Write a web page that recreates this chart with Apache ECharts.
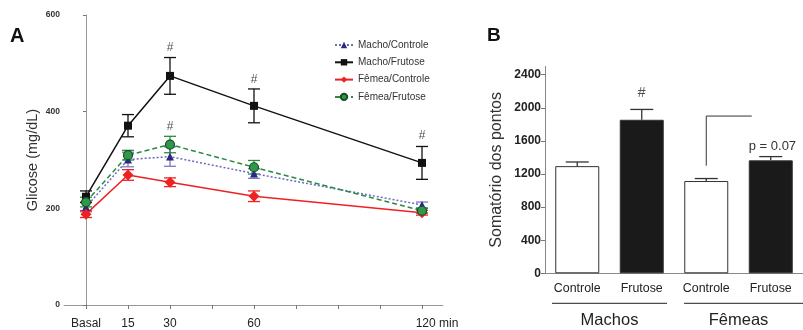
<!DOCTYPE html>
<html><head><meta charset="utf-8">
<script src="https://cdn.jsdelivr.net/npm/echarts@6/dist/echarts.min.js"></script>
<style>html,body{margin:0;padding:0;background:#fff}#c{width:803px;height:330px}</style>
</head><body><div id="c"></div>
<script>
// ---- Panel A data ----
const timePoints = [0, 15, 30, 60, 120];
const timeLabels = ['Basal', '15', '30', '60', '120 min'];
const timeTicks = [0, 15, 30, 45, 60, 75, 90, 105, 120];
const seriesNames = ['Macho/Controle', 'Macho/Frutose', 'Fêmea/Controle', 'Fêmea/Frutose'];
const machoControle = [203, 301, 307, 272, 207];
const machoControleErr = [10, 15, 20, 10, 6];
const machoFrutose = [224, 371, 474, 412, 294];
const machoFrutoseErr = [12, 23, 38, 35, 34];
const femeaControle = [188, 269, 254, 225, 191];
const femeaControleErr = [7, 11, 9, 11, 5];
const femeaFrutose = [213, 310, 332, 285, 195];
const femeaFrutoseErr = [10, 10, 17, 14, 5];
const hashA = [[30, 532], [60, 467], [120, 350], [30, 368]];
const yTicksA = [0, 200, 400, 600];
// ---- Panel B data ----
const barCategories = ['Controle', 'Frutose', 'Controle', 'Frutose'];
const barGroups = ['Machos', 'Fêmeas'];
const barValues = [1295, 1855, 1115, 1365];
const barErr = [50, 125, 30, 45];
const hashB = [[1, 2175]];
const yTicksB = [0, 400, 800, 1200, 1600, 2000, 2400];
const pBracket = [1300, 1900];
const pText = 'p = 0.07';

const FONT = 'Liberation Sans, Arial, sans-serif';
const chart = echarts.init(document.getElementById('c'), null, {renderer: 'canvas'});

const styles = [
  {color: '#2a2a80', line: '#6a6ac0', type: [2, 2], symbol: 'triangle', size: 8, err: '#7a7ac8'},
  {color: '#111111', line: '#111111', type: 'solid', symbol: 'rect', size: 8, err: '#111111'},
  {color: '#ee2222', line: '#ee2222', type: 'solid', symbol: 'diamond', size: 11, err: '#ee2222'},
  {color: '#2e9a48', line: '#2b8a3e', type: [5, 3], symbol: 'circle', size: 9, err: '#2b8a3e'}
];
const vals = [machoControle, machoFrutose, femeaControle, femeaFrutose];
const errs = [machoControleErr, machoFrutoseErr, femeaControleErr, femeaFrutoseErr];

function errRender(halfW, color, upOnly) {
  return function (params, api) {
    const x = api.value(0), lo = api.value(1), hi = api.value(2);
    const pTop = api.coord([x, hi]);
    const pBot = api.coord([x, lo]);
    const children = [
      {type: 'line', shape: {x1: pTop[0], y1: pTop[1], x2: pBot[0], y2: pBot[1]}, style: {stroke: color, lineWidth: 1.3}},
      {type: 'line', shape: {x1: pTop[0] - halfW, y1: pTop[1], x2: pTop[0] + halfW, y2: pTop[1]}, style: {stroke: color, lineWidth: 1.3}}
    ];
    if (!upOnly) children.push({type: 'line', shape: {x1: pBot[0] - halfW, y1: pBot[1], x2: pBot[0] + halfW, y2: pBot[1]}, style: {stroke: color, lineWidth: 1.3}});
    return {type: 'group', children: children};
  };
}

const series = [];
vals.forEach((v, i) => {
  series.push({
    type: 'custom', name: 'err' + i, xAxisIndex: 0, yAxisIndex: 0, z: 2,
    renderItem: errRender(6, styles[i].err, false),
    data: timePoints.map((t, k) => [t, v[k] - errs[i][k], v[k] + errs[i][k]]),
    silent: true
  });
});
vals.forEach((v, i) => {
  const s = styles[i];
  series.push({
    type: 'line', name: seriesNames[i], xAxisIndex: 0, yAxisIndex: 0, z: 3,
    data: timePoints.map((t, k) => [t, v[k]]),
    symbol: s.symbol, symbolSize: s.size,
    itemStyle: {color: s.color, borderColor: i === 3 ? '#1b4d2a' : s.color, borderWidth: i === 3 ? 1.2 : 0},
    lineStyle: {color: s.line, type: s.type, width: 1.5},
    animation: false
  });
});
series.push({
  type: 'scatter', name: 'hashA', xAxisIndex: 0, yAxisIndex: 0, symbolSize: 0,
  data: hashA, silent: true,
  label: {show: true, position: 'inside', formatter: '#', fontSize: 12, color: '#222', fontFamily: FONT}
});
series.push({
  type: 'bar', name: 'bars', xAxisIndex: 1, yAxisIndex: 1, barWidth: 44,
  data: barValues.map((v, i) => ({value: v, itemStyle: {color: i % 2 === 0 ? '#ffffff' : '#1a1a1a', borderColor: '#333', borderWidth: 1}})),
  animation: false
});
series.push({
  type: 'custom', name: 'errB', xAxisIndex: 1, yAxisIndex: 1, z: 1,
  renderItem: errRender(11.5, '#333', true),
  data: barValues.map((v, i) => [i, v, v + barErr[i]]), silent: true
});
series.push({
  type: 'scatter', name: 'hashB', xAxisIndex: 1, yAxisIndex: 1, symbolSize: 0,
  data: hashB, silent: true,
  label: {show: true, position: 'inside', formatter: '#', fontSize: 14, color: '#222', fontFamily: FONT}
});

const plain = v => String(v);
const option = {
  animation: false,
  backgroundColor: '#fff',
  textStyle: {fontFamily: FONT},
  grid: [
    {left: 64, top: 15, right: 360, bottom: 25},
    {left: 545, top: 66.4, right: -6, bottom: 56.7}
  ],
  legend: {
    data: seriesNames, orient: 'vertical', left: 334, top: 40, padding: 0,
    itemWidth: 18, itemHeight: 8, itemGap: 7.3,
    textStyle: {fontSize: 10, color: '#333', fontFamily: FONT}
  },
  xAxis: [
    {
      type: 'value', gridIndex: 0, min: -7.857, max: 127.5,
      axisLine: {show: true, lineStyle: {color: '#999'}},
      splitLine: {show: false},
      axisTick: {show: true, length: 4, inside: false, customValues: timeTicks, lineStyle: {color: '#777'}},
      axisLabel: {
        customValues: timePoints, margin: 13, fontSize: 12, color: '#222', fontFamily: FONT,
        formatter: function (v) {
          const idx = timePoints.indexOf(v);
          if (idx === timePoints.length - 1) return '{p| }' + timeLabels[idx];
          return idx >= 0 ? timeLabels[idx] : '';
        },
        rich: {p: {width: 30}}
      }
    },
    {
      type: 'category', gridIndex: 1, data: barCategories,
      axisLine: {show: true, lineStyle: {color: '#888'}},
      axisTick: {show: false},
      axisLabel: {margin: 9, fontSize: 12.4, color: '#222', fontFamily: FONT}
    },
    {
      type: 'category', gridIndex: 1, data: barGroups, position: 'bottom', offset: 30,
      axisLine: {show: false}, axisTick: {show: false},
      axisLabel: {margin: 9, fontSize: 16.5, color: '#222', fontFamily: FONT}
    }
  ],
  yAxis: [
    {
      type: 'value', gridIndex: 0, min: 0, max: 600,
      name: 'Glicose (mg/dL)', nameLocation: 'middle', nameGap: 24,
      nameTextStyle: {fontSize: 14.5, color: '#333', fontFamily: FONT},
      axisLine: {show: true, lineStyle: {color: '#999'}},
      splitLine: {show: false},
      axisTick: {show: true, length: 3, customValues: yTicksA, lineStyle: {color: '#777'}},
      axisLabel: {customValues: yTicksA, formatter: plain, margin: 4, fontSize: 8.5, fontWeight: 'bold', color: '#333', fontFamily: FONT}
    },
    {
      type: 'value', gridIndex: 1, min: 0, max: 2500,
      name: 'Somatório dos pontos', nameLocation: 'middle', nameGap: 40,
      nameTextStyle: {fontSize: 16, color: '#333', fontFamily: FONT},
      axisLine: {show: true, lineStyle: {color: '#888'}},
      splitLine: {show: false},
      axisTick: {show: true, length: 4, customValues: yTicksB, lineStyle: {color: '#777'}},
      axisLabel: {customValues: yTicksB, formatter: plain, margin: 4, fontSize: 12, fontWeight: 'bold', color: '#222', fontFamily: FONT}
    }
  ],
  series: series
};
chart.setOption(option);

const c0 = chart.convertToPixel({xAxisIndex: 1}, 0);
const c1 = chart.convertToPixel({xAxisIndex: 1}, 1);
const c2 = chart.convertToPixel({xAxisIndex: 1}, 2);
const c3 = chart.convertToPixel({xAxisIndex: 1}, 3);
const band = c1 - c0;
const yBase = chart.convertToPixel({yAxisIndex: 1}, 0);
const underY = yBase + 30;
const bLo = chart.convertToPixel({yAxisIndex: 1}, pBracket[0]);
const bHi = chart.convertToPixel({yAxisIndex: 1}, pBracket[1]);
const pY = chart.convertToPixel({yAxisIndex: 1}, 1530);
chart.setOption({
  graphic: [
    {type: 'text', left: 10, top: 26, style: {text: 'A', font: 'bold 20px ' + FONT, fill: '#111'}},
    {type: 'text', left: 487, top: 26, style: {text: 'B', font: 'bold 19px ' + FONT, fill: '#111'}},
    {type: 'line', shape: {x1: c0 - band / 2 + 7, y1: underY, x2: c1 + band / 2 - 7, y2: underY}, style: {stroke: '#222', lineWidth: 1}},
    {type: 'line', shape: {x1: c2 - band / 2 + 10, y1: underY, x2: c3 + band / 2, y2: underY}, style: {stroke: '#222', lineWidth: 1}},
    {type: 'polyline', shape: {points: [[c2, bLo], [c2, bHi], [c3 - 19, bHi]]}, style: {stroke: '#333', lineWidth: 1, fill: null}},
    {type: 'text', x: c3 - 22, y: pY, style: {text: pText, font: '13px ' + FONT, fill: '#333', textVerticalAlign: 'middle'}}
  ]
});
</script></body></html>
